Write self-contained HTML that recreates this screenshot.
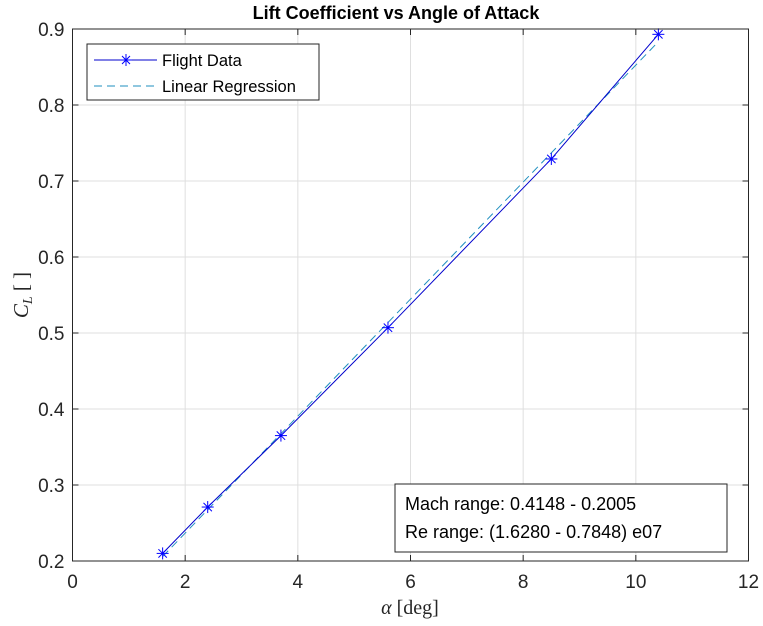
<!DOCTYPE html>
<html><head><meta charset="utf-8"><style>
html,body{margin:0;padding:0;background:#fff;}
svg{display:block;font-family:"Liberation Sans",sans-serif;}
</style></head><body>
<svg id="chart" width="763" height="626" viewBox="0 0 763 626">
<rect width="763" height="626" fill="#fff"/>
<g id="grid"></g>
<g id="marks"></g>
<rect x="72.5" y="29" width="676" height="532" fill="none" stroke="#262626" stroke-width="1"/>
<g id="ticks"></g>
<text x="396" y="19" text-anchor="middle" font-size="18" font-weight="bold" fill="#000">Lift Coefficient vs Angle of Attack</text>
<text x="410" y="614" text-anchor="middle" font-size="20" fill="#262626" font-family="'Liberation Serif',serif"><tspan font-style="italic">α</tspan> [deg]</text>
<text transform="translate(28,295) rotate(-90)" text-anchor="middle" font-size="21" fill="#262626" font-family="'Liberation Serif',serif"><tspan font-style="italic">C</tspan><tspan font-style="italic" font-size="14" dy="4">L</tspan><tspan dy="-4"> [ ]</tspan></text>
<g>
<rect x="87" y="44" width="232" height="56" fill="#fff" stroke="#262626" stroke-width="1"/>
<g>
<line x1="94" y1="60" x2="157" y2="60" stroke="#0000cc" stroke-width="1"/>
<g stroke="#0000ff" stroke-width="1"><line x1="120" y1="60" x2="132" y2="60"/><line x1="126" y1="54" x2="126" y2="66"/><line x1="122" y1="56" x2="130" y2="64"/><line x1="130" y1="56" x2="122" y2="64"/></g>
<text x="162" y="66" font-size="16.5" fill="#000">Flight Data</text>
</g>
<g>
<line x1="94" y1="86" x2="157" y2="86" stroke="#1f8fbf" stroke-width="1" stroke-dasharray="8,5"/>
<text x="162" y="92" font-size="16.5" fill="#000">Linear Regression</text>
</g>
</g>
<g>
<rect x="395" y="484" width="332" height="68" fill="#fff" stroke="#262626" stroke-width="1"/>
<text x="405" y="510" font-size="18" fill="#000">Mach range: 0.4148 - 0.2005</text>
<text x="405" y="538" font-size="18" fill="#000">Re range: (1.6280 - 0.7848) e07</text>
</g>
</svg>
<script>
const alpha = [1.6, 2.4, 3.7, 5.6, 8.5, 10.4];
const cl = [0.21, 0.271, 0.365, 0.507, 0.729, 0.893];
const xTicks = [0, 2, 4, 6, 8, 10, 12];
const yTicks = [0.2, 0.3, 0.4, 0.5, 0.6, 0.7, 0.8, 0.9];
const NS = "http://www.w3.org/2000/svg";
const L = 72.5, R = 748.5, T = 29, B = 561;
const xs = v => L + (v - 0) / 12 * (R - L);
const ys = v => B - (v - 0.2) / 0.7 * (B - T);
function mk(tag, attrs, parent) { const e = document.createElementNS(NS, tag); for (const k in attrs) e.setAttribute(k, attrs[k]); parent.appendChild(e); return e; }
const grid = document.getElementById('grid'), ticks = document.getElementById('ticks'), marks = document.getElementById('marks');
xTicks.forEach(t => {
  const x = xs(t);
  const g = mk('line', {x1: x, x2: x, y1: T, y2: B, stroke: '#dfdfdf', 'stroke-width': 1}, grid);
  
  
  mk('line', {x1: x, x2: x, y1: B, y2: B - 6, stroke: '#262626'}, ticks);
  mk('line', {x1: x, x2: x, y1: T, y2: T + 6, stroke: '#262626'}, ticks);
  const lb = mk('text', {x: x, y: B + 27, 'text-anchor': 'middle', 'font-size': 19, fill: '#262626'}, ticks);
  lb.textContent = t;
  
  
});
yTicks.forEach(t => {
  const y = ys(t);
  const g = mk('line', {x1: L, x2: R, y1: y, y2: y, stroke: '#dfdfdf', 'stroke-width': 1}, grid);
  
  
  mk('line', {x1: L, x2: L + 6, y1: y, y2: y, stroke: '#262626'}, ticks);
  mk('line', {x1: R, x2: R - 6, y1: y, y2: y, stroke: '#262626'}, ticks);
  const lb = mk('text', {x: L - 8, y: y + 7, 'text-anchor': 'end', 'font-size': 19, fill: '#262626'}, ticks);
  lb.textContent = t.toFixed(1);
  
  
});
const n = alpha.length;
const mx = alpha.reduce((a, b) => a + b, 0) / n, my = cl.reduce((a, b) => a + b, 0) / n;
let sxy = 0, sxx = 0;
for (let i = 0; i < n; i++) { sxy += (alpha[i] - mx) * (cl[i] - my); sxx += (alpha[i] - mx) ** 2; }
const slope = sxy / sxx, icpt = my - slope * mx;
const x0 = Math.min(...alpha), x1 = Math.max(...alpha);
const reg = mk('line', {x1: xs(x0), y1: ys(icpt + slope * x0), x2: xs(x1), y2: ys(icpt + slope * x1), stroke: '#1f8fbf', 'stroke-width': 1, 'stroke-dasharray': '8,5'}, marks);


const pl = mk('polyline', {points: alpha.map((a, i) => xs(a) + ',' + ys(cl[i])).join(' '), fill: 'none', stroke: '#0000cc', 'stroke-width': 1}, marks);


alpha.forEach((a, i) => {
  const cx = xs(a), cy = ys(cl[i]);
  const g = mk('g', {stroke: '#0000ff', 'stroke-width': 1}, marks);
  
  
  mk('line', {x1: cx - 6, x2: cx + 6, y1: cy, y2: cy}, g);
  mk('line', {x1: cx, x2: cx, y1: cy - 6, y2: cy + 6}, g);
  mk('line', {x1: cx - 4.2, x2: cx + 4.2, y1: cy - 4.2, y2: cy + 4.2}, g);
  mk('line', {x1: cx + 4.2, x2: cx - 4.2, y1: cy - 4.2, y2: cy + 4.2}, g);
});
</script>
</body></html>
